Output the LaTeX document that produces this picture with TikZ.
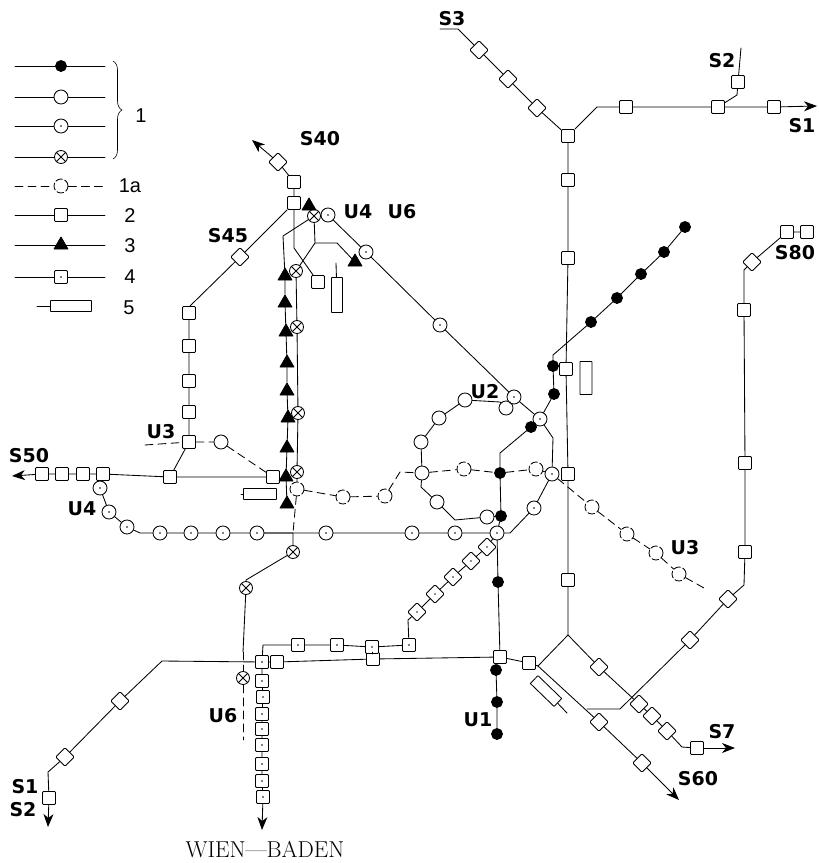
\documentclass[tikz,border=0pt]{standalone}
\usepackage{fontspec}
\usetikzlibrary{shapes.geometric,decorations.pathreplacing,arrows.meta}
\newfontfamily\boldlbl{DejaVu Sans Bold}
\newfontfamily\keylbl{Liberation Sans}
\tikzset{
  st/.style={draw,fill=white,inner sep=0pt},
  sq/.style={st,rectangle,rounded corners=1pt,minimum size=13pt},
  dia/.style={sq,rotate=45},
  cir/.style={st,circle,minimum size=14pt},
  blk/.style={st,circle,fill=black,minimum size=11pt},
  dot/.style={path picture={\fill[black] (path picture bounding box.center) circle (.9pt);}},
  cdot/.style={cir,dot},
  sdot/.style={sq,dot},
  xcir/.style={cir,minimum size=13pt,path picture={
    \draw (path picture bounding box.north west)--(path picture bounding box.south east)
          (path picture bounding box.north east)--(path picture bounding box.south west);}},
  dcir/.style={cir,dash pattern=on 7pt off 2.5pt},
  tri/.style={draw,fill=black,regular polygon,regular polygon sides=3,inner sep=0pt,minimum size=16pt},
  stat/.style={draw,fill=white,inner sep=0pt,rounded corners=.5pt,minimum width=#1,minimum height=11pt},
  lbl/.style={font=\boldlbl\fontsize{19}{19}\selectfont,inner sep=0pt},
  key/.style={font=\keylbl\fontsize{20}{20}\selectfont,inner sep=0pt},
  dsh/.style={dash pattern=on 8pt off 5pt},
}
\begin{document}
\begin{tikzpicture}[x=1pt,y=-1pt,line width=.85pt,line join=round,line cap=round,>={Stealth[length=13pt,width=10pt,inset=4pt]}]
\useasboundingbox (0,0) rectangle (819,863);
% key
\foreach \n/\y/\s in {a/66/blk,b/97/cir,c/126/cdot,d/157/xcir,f/215/sq,g/245/tri,h/277/sdot}{
  \coordinate (kl\n) at (15,\y);
  \coordinate (kr\n) at (105,\y);
  \node[\s] (k\n) at (61,\y) {};
  \draw (kl\n)--(k\n)--(kr\n);
}
\coordinate (kle) at (15,186);
\coordinate (kre) at (105,186);
\node[dcir] (ke) at (61,186) {};
\draw[dsh] (kle)--(ke)--(kre);
\coordinate (kli) at (37,306);
\node[stat=41pt] (ki) at (71,306) {};
\draw (kli)--(ki);
\coordinate (brt) at (113,61);
\coordinate (brb) at (113,159);
\draw[line width=.6pt,decoration={brace,amplitude=9pt},decorate] (brt)--(brb);
\foreach \n/\x/\y/\t in {k1/141/116/1,k1a/130/186/1a,k2/130/216/2,k3/130/246/3,k4/130/277/4,k5/129/308/5}
  \node[key] (\n) at (\x,\y) {\t};
% stations
\foreach \n/\x/\y in {a1/568/136,a2/568/180,a3/568/258,a4/566/369,a5/568/474,a6/568/580,
  b1/626/107,b2/718/107,b3/774/107,b4/738/82,c1/294/182,c2/294/203,c3/318/282,
  d1/189/313,d2/189/346,d3/189/381,d4/189/412,d5/189/442,d6/170/477,d7/273/477,
  d8/103/474,d9/83/474,d10/62/474,d11/42/474,e1/500/657,e2/529/663,e3/373/659,e4/277/662,
  e5/49/798,e6/697/748,f1/745/552,f2/745/463,f3/744/310,f4/787/232,f5/807/232}
  \node[sq] (\n) at (\x,\y) {};
\foreach \n/\x/\y in {g1/479/50,g2/508/79,g3/537/108,g4/278/162,g5/240/257,g6/120/701,g7/65/757,
  g8/599/667,g9/639/704,g10/652/716,g11/667/731,g12/599/722,g13/642/763,g14/690/640,g15/728/599,g16/752/262}
  \node[dia] (\n) at (\x,\y) {};
\foreach \n/\x/\y in {h1/262/662,h2/262/681,h3/263/697,h4/262/714,h5/262/729,h6/262/745,h7/262/764,h8/262/781,h9/263/797,
  m1/298/645,m2/337/645,m3/372/647,m4/409/645}
  \node[sdot] (\n) at (\x,\y) {};
\foreach \n/\x/\y in {m5/417/612,m6/435/594,m7/453/577,m8/471/561,m9/487/547}
  \node[dia,dot] (\n) at (\x,\y) {};
\foreach \n/\x/\y in {r1/422/473,r2/421/442,r3/439/418,r4/465/400,r5/506/408,r6/437/502,r7/487/517,r8/221/442}
  \node[cir] (\n) at (\x,\y) {};
\foreach \n/\x/\y in {u1/328/215,u2/366/252,u3/440/325,u4/514/397,u5/540/419,u6/552/474,u7/534/508,u8/497/533,
  u9/455/533,u10/412/533,u11/326/533,u12/257/533,u13/223/533,u14/191/533,u15/160/533,u16/127/527,u17/109/512,u18/100/488}
  \node[cdot] (\n) at (\x,\y) {};
\foreach \n/\x/\y in {w1/553/366,w2/554/394,w3/531/427,w4/500/473,w5/501/516,w6/498/582,w7/496/670,w8/497/702,w9/497/734,
  w10/591/322,w11/617/298,w12/641/274,w13/664/252,w14/685/227}
  \node[blk] (\n) at (\x,\y) {};
\foreach \n/\x/\y in {x1/314/216,x2/296/271,x3/297/327,x4/298/413,x5/297/472,x6/293/552,x7/246/588,x8/243/678}
  \node[xcir] (\n) at (\x,\y) {};
\foreach \n/\x/\y in {t1/285/276,t2/285/303,t3/286/332,t4/287/363,t5/287/391,t6/288/418,t7/287/448,t8/286/477,t9/287/504,t10/309/206,t11/355/262}
  \node[tri] (\n) at (\x,\y) {};
\foreach \n/\x/\y in {v1/297/489,v2/343/497,v3/385/496,v4/464/469,v5/536/469,v6/592/507,v7/627/534,v8/656/553,v9/679/574}
  \node[dcir] (\n) at (\x,\y) {};
% platforms
\node[stat=11pt,minimum height=35pt] (p1) at (337,295) {};
\node[stat=12pt,minimum height=33pt] (p2) at (586,378) {};
\node[stat=33pt,rotate=-44] (p3) at (546,691) {};
\node[stat=33pt] (p4) at (260,494) {};
% bends and free ends
\foreach \n/\x/\y in {j1/568/635,j2/538/666,j4/597/107,j5/817/106,j6/737/95,j7/741/48,j8/440/29,j9/458/29,
  j10/252/140,j11/190/306,j12/12/476,j13/145/445,j14/162/661,j15/48/827,j16/263/645,j17/262/830,j18/408/620,
  j19/735/748,j20/682/747,j21/679/800,j22/587/709,j23/620/709,j24/744/585,j25/744/270,
  j26/553/355,j27/500/453,j28/553/438,j29/510/533,j30/140/533,j31/283/236,j32/315/243,j33/337/243,
  j34/294/248,j35/336/263,j36/567/713,j37/243/652,j38/246/580,j39/243/740,j40/400/472,j41/704/588,
  j42/500/402,j43/421/487,j44/455/520,j45/293/533,j46/241/494,j48/48/772}
  \coordinate (\n) at (\x,\y);
% S lines
\draw (j8)--(j9)--(g1)--(g2)--(g3)--(a1)--(a2)--(a3)--(a4)--(a5)--(a6)--(j1);
\draw[->] (a1)--(j4)--(b1)--(b2)--(b3)--(j5);
\draw (b2)--(j6)--(b4)--(j7);
\draw[->] (c1)--(g4)--(j10);
\draw (c1)--(c2)--(g5)--(j11)--(d1)--(d2)--(d3)--(d4)--(d5)--(d6);
\draw[->] (d7)--(d6)--(d8)--(d9)--(d10)--(d11)--(j12);
\draw (c2)--(j34)--(c3);
\draw (j35)--(p1);
\draw (j46)--(p4);
\draw[->] (e1)--(e3)--(e4)--(h1)--(j14)--(g6)--(g7)--(j48)--(e5)--(j15);
\draw (e1)--(e2)--(j2);
\draw (j2)--(j1)--(g8)--(g9)--(g10)--(g11)--(j20)--(e6);
\draw[->] (e6)--(j19);
\draw[->] (j2)--(g12)--(g13)--(j21);
\draw (p3)--(j36);
\draw (j22)--(j23)--(g14)--(g15)--(j24)--(f1)--(f2)--(f3)--(j25)--(g16)--(f4)--(f5);
\draw[->] (h1)--(h2)--(h3)--(h4)--(h5)--(h6)--(h7)--(h8)--(h9)--(j17);
% U lines
\draw (w14)--(w13)--(w12)--(w11)--(w10)--(j26)--(w1)--(w2)--(u5)--(w3)--(j27)--(w4)--(w5)--(u8)--(w6)--(e1)--(w7)--(w8)--(w9);
\draw (u1)--(u2)--(u3)--(u4)--(u5)--(j28)--(u6)--(u7)--(j29)--(u8)--(u9)--(u10)--(u11)--(u12)--(u13)--(u14)--(u15)--(j30)--(u16)--(u17)--(u18)--(d8);
\draw (x1)--(u1);
\draw (u4)--(r5)--(j42)--(r4)--(r3)--(r2)--(r1)--(j43)--(r6)--(j44)--(r7)--(w5);
\draw (x1)--(j31)--(t1)--(t2)--(t3)--(t4)--(t5)--(t6)--(t7)--(t8)--(t9);
\draw (x1)--(j32)--(x2)--(x3)--(x4)--(x5)--(v1);
\draw (j32)--(j33)--(t11);
\draw (u12)--(j45)--(x6)--(j38)--(x7)--(j37);
\draw (h1)--(j16)--(m1)--(m2)--(m3)--(m4)--(j18)--(m5)--(m6)--(m7)--(m8)--(m9)--(u8);
\draw (m3)--(e3);
\draw[dsh] (j37)--(x8)--(j39);
\draw[dsh] (v1)--(j45);
\draw[dsh] (v1)--(v2)--(v3)--(j40)--(r1)--(v4)--(w4)--(v5)--(u6)--(v6)--(v7)--(v8)--(v9)--(j41);
\draw[dsh] (j13)--(d5)--(r8)--(d7);
% labels
\foreach \n/\x/\y/\t in {s3/452/19/S3,s2/722/61/S2,s1a/802/126/S1,s40/320/139/S40,s45/228/236/S45,s80/795/253/S80,
  s50/29/456/S50,s7/722/732/S7,s60/698/779/S60,s1b/25/787/S1,s2b/23/810/S2,
  l1/478/720/U1,l2/485/392/U2,l3a/161/432/U3,l3b/685/548/U3,l4a/358/212/U4,l4b/82/509/U4,l6a/402/212/U6,l6b/223/716/U6}
  \node[lbl] (\n) at (\x,\y) {\t};
\node[font=\fontsize{23}{23}\selectfont,inner sep=0pt] (wien) at (265,850) {WIEN---BADEN};
\end{tikzpicture}
\end{document}
